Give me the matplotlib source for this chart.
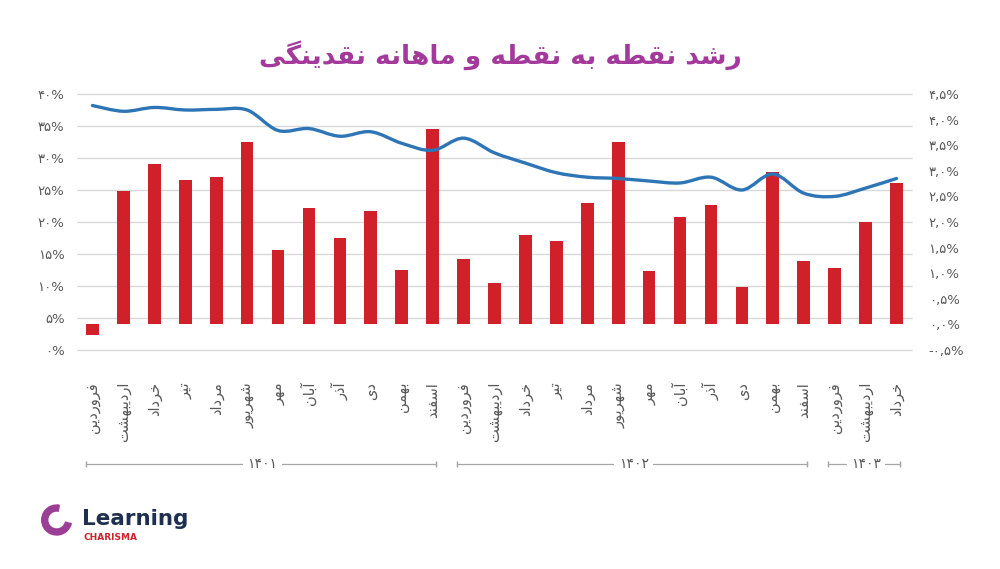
import matplotlib
matplotlib.use("Agg")
import matplotlib.pyplot as plt
import matplotlib.transforms as mtransforms
from matplotlib.path import Path
from matplotlib.patches import PathPatch, Wedge
import numpy as np

# ---- data ----
months = ['فروردین', 'اردیبهشت', 'خرداد', 'تیر', 'مرداد', 'شهریور',
          'مهر', 'آبان', 'آذر', 'دی', 'بهمن', 'اسفند']
labels = months + months + months[:3]
years = ['۱۴۰۱', '۱۴۰۲', '۱۴۰۳']
year_span = [(0, 11), (12, 23), (24, 26)]

# monthly growth (right axis, %)
monthly = [-0.21, 2.61, 3.13, 2.82, 2.88, 3.56, 1.45, 2.27, 1.68, 2.21, 1.06, 3.82,
           1.27, 0.81, 1.75, 1.62, 2.38, 3.56, 1.04, 2.09, 2.33, 0.73, 2.98, 1.24,
           1.10, 2.00, 2.76]
# point-to-point growth (left axis, %)
p2p = [38.2, 37.3, 37.9, 37.5, 37.6, 37.5, 34.3, 34.6, 33.4, 34.1, 32.3, 31.2,
       33.1, 30.8, 29.2, 27.7, 27.0, 26.8, 26.4, 26.1, 27.0, 25.0, 27.5, 24.5,
       24.0, 25.3, 26.8]

left_ticks = [0, 5, 10, 15, 20, 25, 30, 35, 40]
right_ticks = [-0.5, 0.0, 0.5, 1.0, 1.5, 2.0, 2.5, 3.0, 3.5, 4.0, 4.5]

title = 'رشد نقطه به نقطه و ماهانه نقدینگی'

# ---- simple persian shaping (matplotlib has no arabic shaping) ----
RIGHT = {0x627: (0xFE8D, 0xFE8E), 0x622: (0xFE81, 0xFE82), 0x62F: (0xFEA9, 0xFEAA),
         0x630: (0xFEAB, 0xFEAC), 0x631: (0xFEAD, 0xFEAE), 0x632: (0xFEAF, 0xFEB0),
         0x698: (0xFB8A, 0xFB8B), 0x648: (0xFEED, 0xFEEE)}
DUAL = {0x628: 0xFE8F, 0x67E: 0xFB56, 0x62A: 0xFE95, 0x62B: 0xFE99, 0x62C: 0xFE9D,
        0x686: 0xFB7A, 0x62D: 0xFEA1, 0x62E: 0xFEA5, 0x633: 0xFEB1, 0x634: 0xFEB5,
        0x635: 0xFEB9, 0x636: 0xFEBD, 0x637: 0xFEC1, 0x638: 0xFEC5, 0x639: 0xFEC9,
        0x63A: 0xFECD, 0x641: 0xFED1, 0x642: 0xFED5, 0x6A9: 0xFB8E, 0x6AF: 0xFB92,
        0x644: 0xFEDD, 0x645: 0xFEE1, 0x646: 0xFEE5, 0x647: 0xFEE9, 0x6CC: 0xFBFC}


def shape(text):
    text = text.replace('\u064a', '\u06cc').replace('\u0643', '\u06a9').replace('\u0627\u0653', '\u0622')
    ch = list(text)
    out = []
    for i, c in enumerate(ch):
        o = ord(c)
        if o not in DUAL and o not in RIGHT:
            out.append(c)
            continue
        prev = ord(ch[i - 1]) if i > 0 else 0
        nxt = ord(ch[i + 1]) if i + 1 < len(ch) else 0
        lp = prev in DUAL
        ln = o in DUAL and (nxt in DUAL or nxt in RIGHT)
        if o in RIGHT:
            out.append(chr(RIGHT[o][1] if lp else RIGHT[o][0]))
        else:
            k = 3 if (lp and ln) else 1 if lp else 2 if ln else 0
            out.append(chr(DUAL[o] + k))
    return ''.join(reversed(out))


def fa_num(s):
    return s.translate(str.maketrans('0123456789.', '۰۱۲۳۴۵۶۷۸۹,'))


plt.rcParams['font.family'] = ['DejaVu Sans']
gray = '#595959'

fig = plt.figure(figsize=(10, 5.69), dpi=100)
ax = fig.add_axes([0.077, 0.3849, 0.835, 0.4499])
ax2 = ax.twinx()
ax.set_zorder(2)
ax2.set_zorder(1)
ax.patch.set_visible(False)

x = np.arange(len(labels))

# bars on right axis
ax2.bar(x, monthly, width=0.41, color='#D0212A', zorder=2)
ax2.set_ylim(-0.5, 4.5)
ax2.set_yticks(right_ticks, [fa_num('%.1f' % v) + '%' for v in right_ticks])

# gridlines belong to left axis but drawn below the bars
ax2.hlines(left_ticks, -0.5, len(labels) - 0.5, transform=ax.transData,
           color='#D9D9D9', linewidth=1, zorder=0, clip_on=False)

# smoothed line on left axis (bezier through the points)
pts = np.column_stack([x, p2p]).astype(float)
verts = [pts[0]]
codes = [Path.MOVETO]
n = len(pts)
for i in range(n - 1):
    p0 = pts[max(i - 1, 0)]
    p1 = pts[i]
    p2 = pts[i + 1]
    p3 = pts[min(i + 2, n - 1)]
    verts += [p1 + (p2 - p0) / 6, p2 - (p3 - p1) / 6, p2]
    codes += [Path.CURVE4] * 3
ax.add_patch(PathPatch(Path(verts, codes), facecolor='none', edgecolor='#2E75B6',
                       linewidth=2.4, capstyle='round', zorder=3))
ax.set_ylim(0, 40)
ax.set_yticks(left_ticks, [fa_num(str(v)) + '%' for v in left_ticks])
ax.set_xlim(-0.5, len(labels) - 0.5)
ax.set_xticks(x, [shape(m) for m in labels], rotation=90, va='top', ha='center')

for a in (ax, ax2):
    for s in a.spines.values():
        s.set_visible(False)
    a.tick_params(length=0, colors=gray, labelsize=9.5)
ax.tick_params(axis='y', pad=9)
ax2.tick_params(axis='y', pad=12)
ax.tick_params(axis='x', pad=23, labelsize=10.5)

# year groups under months
tr = mtransforms.blended_transform_factory(ax.transData, ax.transAxes)
yy = -0.445
for yr, (g0, g1) in zip(years, year_span):
    ax.plot([g0 - 0.2, g1 + 0.1], [yy, yy], transform=tr, clip_on=False,
            color='#A6A6A6', linewidth=0.9, marker='|', markersize=5, markevery=[0, 1])
    ax.text((g0 + g1) / 2, yy, fa_num(yr), transform=tr, ha='center', va='center',
            fontsize=10, color=gray, bbox=dict(facecolor='white', edgecolor='none', pad=3))

# title
fig.text(0.5, 1 - 55 / 569, shape(title), ha='center', va='center', fontsize=19,
         fontweight='bold', color='#A3399B')

# logo
fig.add_artist(Wedge((0.567, 0.49), 0.15, 80, 346, width=0.06, color='#9B3F96',
                     transform=fig.dpi_scale_trans))
fig.text(0.082, 1 - 519 / 569, 'Learning', ha='left', va='center', fontsize=15.5,
         fontweight='bold', color='#1E2F4F')
fig.text(0.084, 1 - 537 / 569, 'CHARISMA', ha='left', va='center', fontsize=6.5,
         fontweight='bold', color='#D0212A')

fig.savefig('out.png', dpi=100)
